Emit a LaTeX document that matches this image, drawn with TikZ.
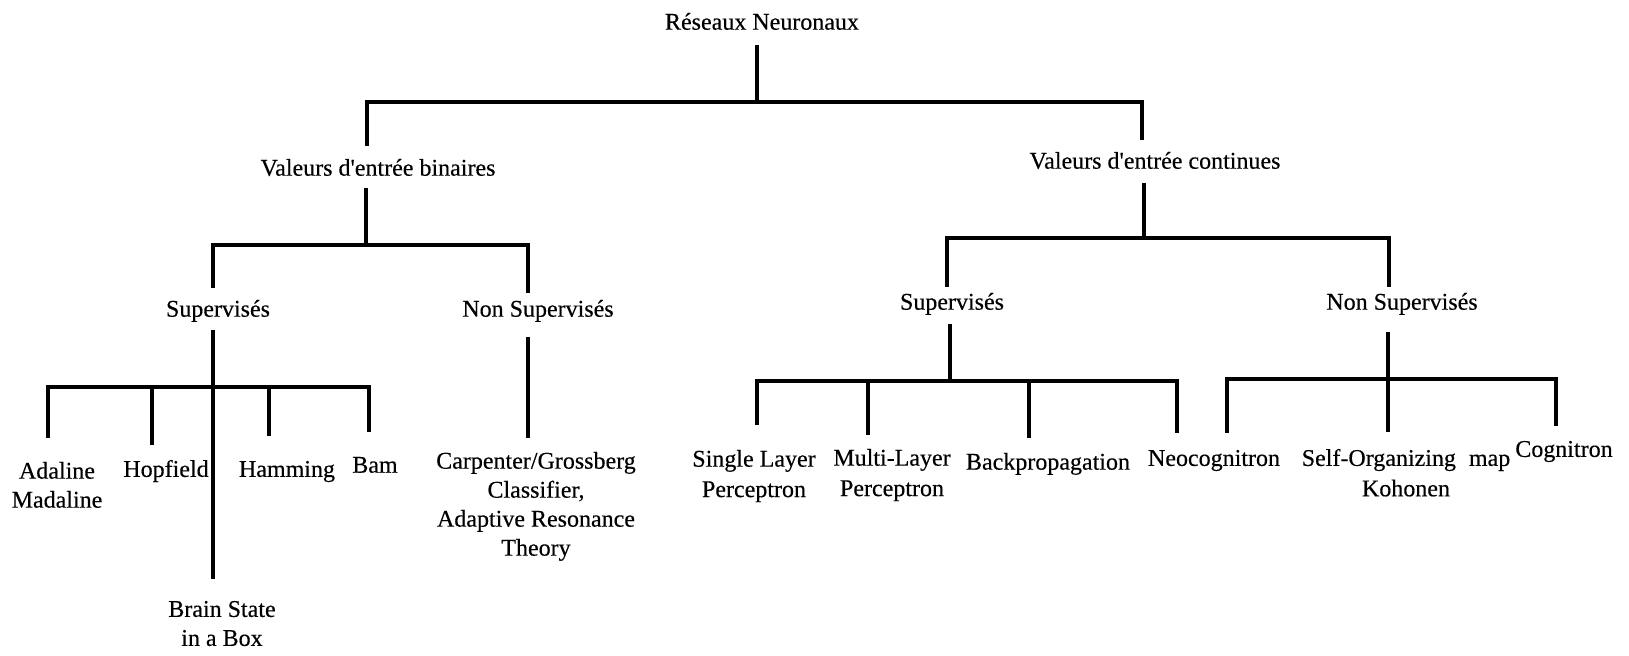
\documentclass[tikz,border=0pt]{standalone}
\usepackage{fontspec}
\setmainfont{Liberation Serif}[FakeBold=0.35]
\usetikzlibrary{calc}
\begin{document}
\begin{tikzpicture}[x=0.5pt,y=-0.5pt,
  lbl/.style={anchor=north, inner sep=0pt, outer sep=0pt, align=center,
              font=\fontsize{12}{14.5}\selectfont},
  lbltall/.style={lbl, font=\fontsize{12}{15.2}\selectfont},
  link/.style={line width=1.6pt, line join=miter}]
\useasboundingbox (0,0) rectangle (1629,656);

% ---- labels -------------------------------------------------------------
\node[lbl] (root)  at (762,13)  {Réseaux Neuronaux};
\node[lbl] (bin)   at (378,159) {Valeurs d\textquotesingle entrée binaires};
\node[lbl] (cont)  at (1155,152) {Valeurs d\textquotesingle entrée continues};

\node[lbl] (bsup)  at (218,300)  {Supervisés};
\node[lbl] (bnsup) at (538,300)  {Non Supervisés};
\node[lbl] (csup)  at (952,293)  {Supervisés};
\node[lbl] (cnsup) at (1402,293) {Non Supervisés};

\node[lbl] (adaline)  at (57,462)  {Adaline\\Madaline};
\node[lbl] (hopfield) at (166,460) {Hopfield};
\node[lbl] (hamming)  at (287,461) {Hamming};
\node[lbl] (bam)      at (375,457) {Bam};
\node[lbl] (bsb)      at (222,601) {Brain State\\in a Box};
\node[lbl] (art)      at (536,452) {Carpenter/Grossberg\\Classifier,\\Adaptive Resonance\\Theory};

\node[lbltall] (slp) at (754,450)  {Single Layer\\Perceptron};
\node[lbltall] (mlp) at (892,449)  {Multi-Layer\\Perceptron};
\node[lbl]     (bp)  at (1048,453) {Backpropagation};
\node[lbl]     (neo) at (1214,450) {Neocognitron};
\node[lbltall] (som) at (1406,449) {Self-Organizing\hspace{6.5pt}map\\Kohonen};
\node[lbl]     (cog) at (1564,441) {Cognitron};

% ---- junctions on the horizontal bars -----------------------------------
\coordinate (j0)  at (757,102);
\coordinate (jBL) at (367,102);
\coordinate (jBR) at (1142,102);

\coordinate (jB0) at (366,245);
\coordinate (jB1) at (213,245);
\coordinate (jB2) at (528,245);

\coordinate (jC0) at (1144,238);
\coordinate (jC1) at (947,238);
\coordinate (jC2) at (1389,238);

\coordinate (jS0)  at (213,387);
\coordinate (tAda) at (48,387);
\coordinate (tHop) at (152,387);
\coordinate (tHam) at (269,387);
\coordinate (tBam) at (369,387);

\coordinate (jT0)  at (950,381);
\coordinate (tSlp) at (757,381);
\coordinate (tMlp) at (868,381);
\coordinate (tBp)  at (1029,381);
\coordinate (tNeo) at (1177,381);

\coordinate (jU0)  at (1388,379);
\coordinate (tNe2) at (1227,379);
\coordinate (tCog) at (1556,379);

% ---- level 1 ------------------------------------------------------------
\draw[link] ($(root.base -| j0)+(0,15)$) -- (j0);
\draw[link] ($(bin.north -| jBL)+(0,-13)$) -- (jBL) -- (jBR)
            -- ($(cont.north -| jBR)+(0,-12)$);

% ---- level 2 ------------------------------------------------------------
\draw[link] ($(bin.base -| jB0)+(0,12)$) -- (jB0);
\draw[link] ($(bsup.north -| jB1)+(0,-12)$) -- (jB1) -- (jB2)
            -- ($(bnsup.north -| jB2)+(0,-7)$);

\draw[link] ($(cont.base -| jC0)+(0,14)$) -- (jC0);
\draw[link] ($(csup.north -| jC1)+(0,-6)$) -- (jC1) -- (jC2)
            -- ($(cnsup.north -| jC2)+(0,-6)$);

% ---- binary inputs, supervised -----------------------------------------
\draw[link] ($(bsup.base -| jS0)+(0,13)$) -- (jS0)
            -- ($(bsb.north -| jS0)+(0,-22)$);
\draw[link] ($(adaline.north -| tAda)+(0,-24)$) -- (tAda) -- (tBam)
            -- ($(bam.north -| tBam)+(0,-25)$);
\draw[link] (tHop) -- ($(hopfield.north -| tHop)+(0,-15)$);
\draw[link] (tHam) -- ($(hamming.north -| tHam)+(0,-25)$);

% ---- binary inputs, unsupervised ---------------------------------------
\draw[link] ($(bnsup.base -| jB2)+(0,20)$) -- ($(art.north -| jB2)+(0,-14)$);

% ---- continuous inputs, supervised -------------------------------------
\draw[link] ($(csup.base -| jT0)+(0,14)$) -- (jT0);
\draw[link] ($(slp.north -| tSlp)+(0,-25)$) -- (tSlp) -- (tNeo)
            -- ($(neo.north -| tNeo)+(0,-17)$);
\draw[link] (tMlp) -- ($(mlp.north -| tMlp)+(0,-14)$);
\draw[link] (tBp)  -- ($(bp.north -| tBp)+(0,-15)$);

% ---- continuous inputs, unsupervised -----------------------------------
\draw[link] ($(cnsup.base -| jU0)+(0,22)$) -- (jU0)
            -- ($(som.north -| jU0)+(0,-17)$);
\draw[link] ($(neo.north -| tNe2)+(0,-17)$) -- (tNe2) -- (tCog)
            -- ($(cog.north -| tCog)+(0,-15)$);
\end{tikzpicture}
\end{document}
